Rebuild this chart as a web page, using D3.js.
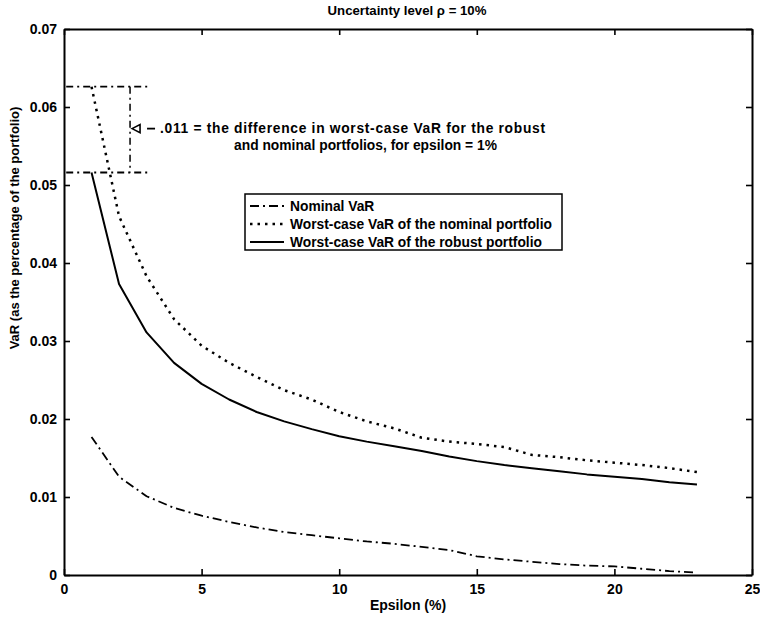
<!DOCTYPE html>
<html>
<head>
<meta charset="utf-8">
<script src="https://cdn.jsdelivr.net/npm/d3@7"></script>
<style>
  html, body { margin: 0; padding: 0; background: #fff; }
  svg { display: block; }
  text { font-family: "Liberation Sans", Arial, Helvetica, sans-serif; font-weight: bold; fill: #000; }
</style>
</head>
<body>
<svg id="chart" width="760" height="618"></svg>
<script>
// ---- data ----
const epsilon = d3.range(1, 24); // 1..23 %
const nominalVaR = [0.0177, 0.0126, 0.0101, 0.0086, 0.0076, 0.0068, 0.0061, 0.0055, 0.0051, 0.0047,
                    0.0043, 0.0040, 0.0036, 0.0032, 0.0024, 0.0020, 0.0017, 0.0014, 0.0012, 0.0011,
                    0.0008, 0.0005, 0.0003];
const worstNominal = [0.0626, 0.0460, 0.0383, 0.0328, 0.0294, 0.0272, 0.0254, 0.0237, 0.0225, 0.0209,
                      0.0197, 0.0188, 0.0176, 0.0171, 0.0168, 0.0164, 0.0154, 0.0151, 0.0147, 0.0144,
                      0.0141, 0.0137, 0.0132];
const worstRobust = [0.0516, 0.0373, 0.0311, 0.0272, 0.0245, 0.0225, 0.0209, 0.0197, 0.0187, 0.0178,
                     0.0171, 0.0165, 0.0159, 0.0152, 0.0146, 0.0141, 0.0137, 0.0133, 0.0129, 0.0126,
                     0.0123, 0.0119, 0.0116];
const xTicks = [0, 5, 10, 15, 20, 25];
const yTicks = [0, 0.01, 0.02, 0.03, 0.04, 0.05, 0.06, 0.07];
const seriesNames = ["Nominal VaR", "Worst-case VaR of the nominal portfolio", "Worst-case VaR of the robust portfolio"];
const titleText = "Uncertainty level \u03C1 = 10%";
const xLabel = "Epsilon (%)";
const yLabel = "VaR (as the percentage of the portfolio)";
const noteLines = [".011 = the difference in worst-case VaR for the robust",
                   "and nominal portfolios, for epsilon = 1%"];

// ---- layout ----
const L = 64, R = 752, T = 29, B = 575;
const svg = d3.select("#chart");
const x = d3.scaleLinear().domain([0, 25]).range([L, R]);
const y = d3.scaleLinear().domain([0, 0.07]).range([B, T]);

const styles = [
  { dash: "9,4,2,4", width: 1.8 },
  { dash: "2.5,5", width: 2.5 },
  { dash: null, width: 2 }
];
const series = [nominalVaR, worstNominal, worstRobust];

// axes frame
const fmtY = d => d === 0 ? "0" : d3.format(".2f")(d);
const axB = svg.append("g").attr("transform", `translate(0,${B})`)
  .call(d3.axisBottom(x).tickValues(xTicks).tickSizeInner(-6).tickSizeOuter(0).tickPadding(9).tickFormat(d3.format("d")));
const axT = svg.append("g").attr("transform", `translate(0,${T})`)
  .call(d3.axisTop(x).tickValues(xTicks).tickSizeInner(-6).tickSizeOuter(0).tickFormat(""));
const axL = svg.append("g").attr("transform", `translate(${L},0)`)
  .call(d3.axisLeft(y).tickValues(yTicks).tickSizeInner(-6).tickSizeOuter(0).tickPadding(7).tickFormat(fmtY));
const axR = svg.append("g").attr("transform", `translate(${R},0)`)
  .call(d3.axisRight(y).tickValues(yTicks).tickSizeInner(-6).tickSizeOuter(0).tickFormat(""));
[axB, axT, axL, axR].forEach(g => {
  g.select(".domain").attr("stroke", "#000").attr("stroke-width", 2);
  g.selectAll(".tick line").attr("stroke", "#000").attr("stroke-width", 1.6);
  g.selectAll(".tick text").style("font-size", "14px").attr("fill", "#000");
});
axL.selectAll(".tick text").attr("dy", "0.35em");

// lines
const line = d3.line().x((d, i) => x(epsilon[i])).y(d => y(d));
series.forEach((s, k) => {
  const p = svg.append("path").datum(s).attr("d", line)
    .attr("fill", "none").attr("stroke", "#000")
    .attr("stroke-width", styles[k].width).attr("stroke-linejoin", "round");
  if (styles[k].dash) p.attr("stroke-dasharray", styles[k].dash);
});

// annotation: dash-dot reference lines at epsilon = 1
const annDash = "7,4,2,4";
const hx0 = 0.08, hx1 = 3.05, vx = 2.4;
[worstNominal[0], worstRobust[0]].forEach(v => {
  svg.append("line").attr("x1", x(hx0)).attr("x2", x(hx1)).attr("y1", y(v)).attr("y2", y(v))
    .attr("stroke", "#000").attr("stroke-width", 1.8).attr("stroke-dasharray", annDash);
});
svg.append("line").attr("x1", x(vx)).attr("x2", x(vx))
  .attr("y1", y(worstNominal[0])).attr("y2", y(worstRobust[0]))
  .attr("stroke", "#000").attr("stroke-width", 1.5).attr("stroke-dasharray", annDash);
const my = y((worstNominal[0] + worstRobust[0]) / 2) - 1;
const ax0 = x(vx) + 2;
svg.append("path")
  .attr("d", `M${ax0},${my} L${ax0 + 8},${my - 4} L${ax0 + 8},${my + 4} Z`)
  .attr("fill", "none").attr("stroke", "#000").attr("stroke-width", 1.6);
svg.append("line").attr("x1", ax0 + 15).attr("x2", ax0 + 23).attr("y1", my).attr("y2", my)
  .attr("stroke", "#000").attr("stroke-width", 1.8);
svg.append("text").attr("x", 160).attr("y", my).attr("dy", "0.35em")
  .attr("textLength", 385).attr("lengthAdjust", "spacing")
  .style("font-size", "13.8px").text(noteLines[0]);
svg.append("text").attr("x", 234).attr("y", my + 17).attr("dy", "0.35em")
  .attr("textLength", 263).attr("lengthAdjust", "spacing")
  .style("font-size", "13.8px").text(noteLines[1]);

// legend
const lg = svg.append("g");
lg.append("rect").attr("x", 245).attr("y", 194).attr("width", 317).attr("height", 56)
  .attr("fill", "#fff").attr("stroke", "#000").attr("stroke-width", 1.5);
seriesNames.forEach((name, k) => {
  const yy = 206 + k * 18;
  const l = lg.append("line").attr("x1", 250).attr("x2", 284).attr("y1", yy).attr("y2", yy)
    .attr("stroke", "#000").attr("stroke-width", styles[k].width);
  if (styles[k].dash) l.attr("stroke-dasharray", styles[k].dash);
  lg.append("text").attr("x", 290).attr("y", yy).attr("dy", "0.35em")
    .style("font-size", "13.8px").text(name);
});

// titles
svg.append("text").attr("x", 407).attr("y", 10).attr("dy", "0.35em")
  .attr("text-anchor", "middle").style("font-size", "13.2px").text(titleText);
svg.append("text").attr("x", 408).attr("y", 605).attr("dy", "0.35em")
  .attr("text-anchor", "middle").style("font-size", "14px").text(xLabel);
svg.append("text").attr("transform", `translate(14,228) rotate(-90)`)
  .attr("dy", "0.35em").attr("text-anchor", "middle").style("font-size", "13px").text(yLabel);
</script>
</body>
</html>
